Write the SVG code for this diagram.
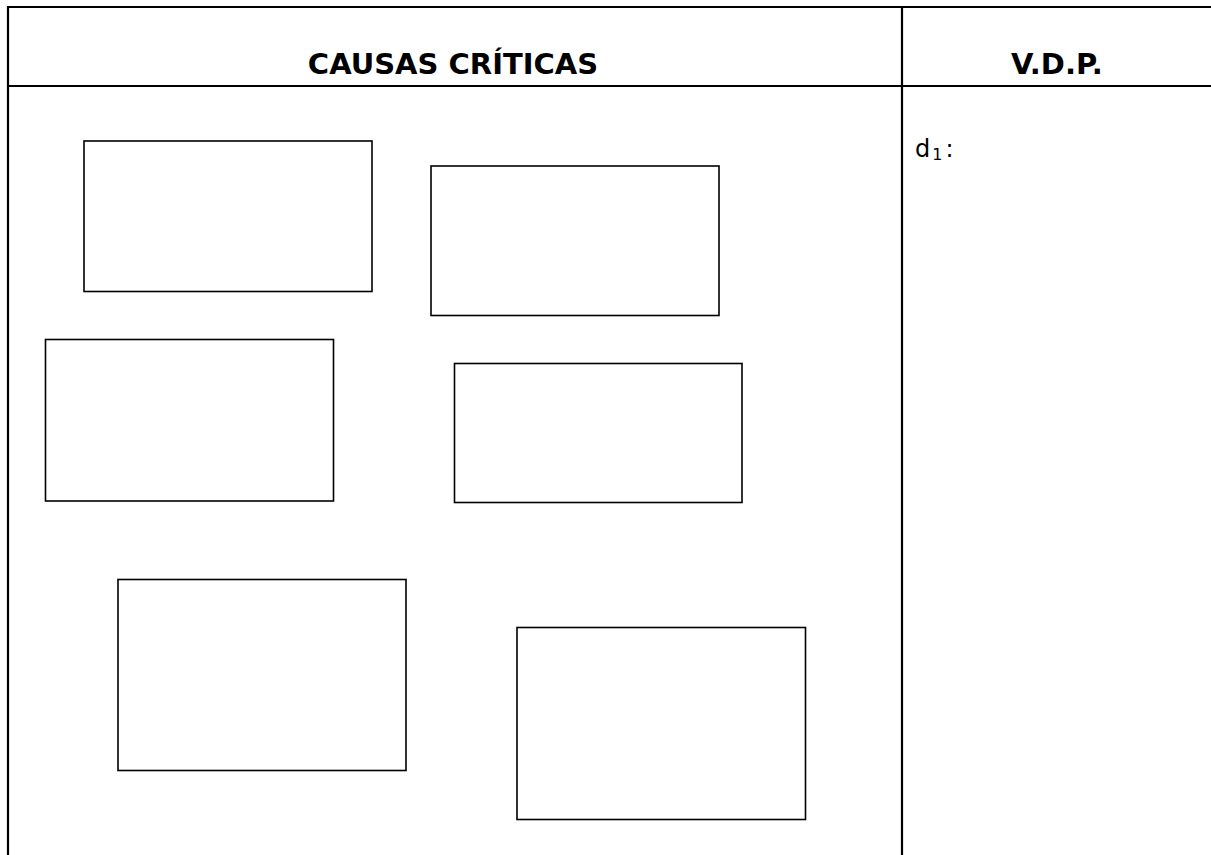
<svg xmlns="http://www.w3.org/2000/svg" width="1211" height="855" viewBox="0 0 1211 855">
<style>
.grid{stroke:#000;stroke-width:2.2;fill:none}
.box{fill:#fff;stroke:#000;stroke-width:1.6}
.hd{font-family:"DejaVu Sans",Verdana,sans-serif;font-weight:bold;font-size:29px;fill:#000;text-anchor:middle}
.tx{font-family:"DejaVu Sans",Verdana,sans-serif;font-size:24px;fill:#000}
</style>
<rect width="1211" height="855" fill="#fff"/>
<g id="table">
<line class="grid" x1="8" y1="7" x2="1211" y2="7"/>
<line class="grid" x1="8" y1="86" x2="1211" y2="86"/>
<line class="grid" x1="8" y1="6" x2="8" y2="855"/>
<line class="grid" x1="902" y1="6" x2="902" y2="855"/>
<text class="hd" x="453" y="74">CAUSAS CRÍTICAS</text>
<text class="hd" x="1057" y="74">V.D.P.</text>
<text class="tx" x="915" y="157">d<tspan font-size="16" dx="2" dy="3">1</tspan><tspan dx="3" dy="-3">:</tspan></text>
</g>
<g id="box1"><rect class="box" x="84" y="141" width="288" height="150.5"/></g>
<g id="box2"><rect class="box" x="431" y="166" width="288" height="149.5"/></g>
<g id="box3"><rect class="box" x="45.5" y="339.5" width="288" height="161.5"/></g>
<g id="box4"><rect class="box" x="454.5" y="363.5" width="287.5" height="139"/></g>
<g id="box5"><rect class="box" x="118" y="579.5" width="288" height="191"/></g>
<g id="box6"><rect class="box" x="517" y="627.5" width="288.5" height="192"/></g>
<g id="connectors"></g>
</svg>
